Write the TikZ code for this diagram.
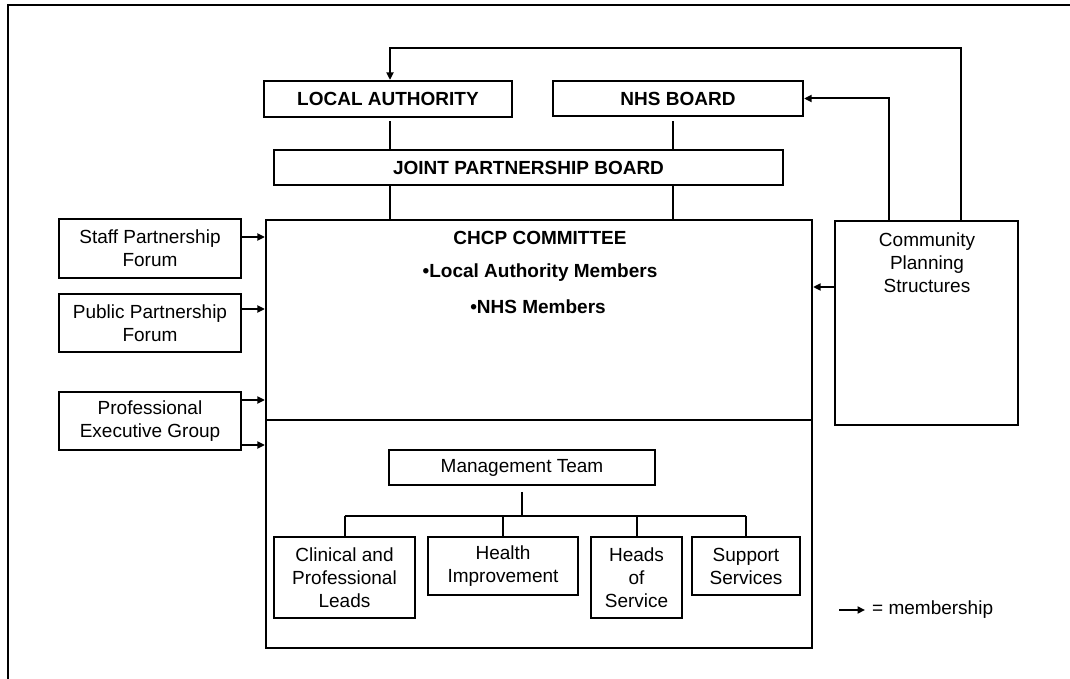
\documentclass[tikz,border=0pt]{standalone}
\usepackage{fontspec}
\setmainfont{Liberation Sans}
\usetikzlibrary{arrows.meta,positioning,calc}

\begin{document}
\begin{tikzpicture}[x=1pt, y=-1pt,
    every node/.style={font=\fontsize{19}{23}\selectfont, align=center, inner sep=0pt},
    orgbox/.style={rectangle, draw, line width=2.2pt},
    subbox/.style={rectangle, draw, line width=1.9pt},
    link/.style={line width=2pt},
    memb/.style={line width=2pt, -{Triangle[length=7.5pt,width=7pt]}}]
    \useasboundingbox (0,0) rectangle (1070,679);
    \clip (0,0) rectangle (1070,679);
    % outer frame
    \draw[line width=2.2pt] (8,5) rectangle (1100,720);

    % Top layer
    \node[orgbox, minimum width=248pt, minimum height=36pt, font=\fontsize{19}{23}\selectfont\bfseries] (la) at (388,99) {LOCAL AUTHORITY};
    \node[orgbox, minimum width=250pt, minimum height=35pt, font=\fontsize{19}{23}\selectfont\bfseries] (nhs) at (678,98.5) {NHS BOARD};
    \node[orgbox, minimum width=509pt, minimum height=35pt, font=\fontsize{19}{23}\selectfont\bfseries] (jpb) at (528.5,167.5) {JOINT PARTNERSHIP BOARD};

    % CHCP committee
    \node[orgbox, minimum width=546pt, minimum height=200pt] (chcp) at (539,320) {};
    \node[orgbox, minimum width=546pt, minimum height=228pt] (ops) at (539,534) {};
    \node[font=\fontsize{19}{23}\selectfont\bfseries] (chcptitle) at (540,238) {CHCP COMMITTEE};
    \node[font=\fontsize{19}{23}\selectfont\bfseries] (lam) at (540,273) {•Local Authority Members};
    \node[font=\fontsize{19}{23}\selectfont\bfseries] (nhsm) at (538,307) {•NHS Members};

    % Forums on the left
    \node[orgbox, minimum width=182pt, minimum height=59pt] (spf) at (150,248.5) {Staff Partnership\\Forum};
    \node[orgbox, minimum width=182pt, minimum height=58pt] (ppf) at (150,323) {Public Partnership\\Forum};
    \node[orgbox, minimum width=182pt, minimum height=58pt] (peg) at (150,421) {Professional\\Executive Group};

    % Community planning
    \node[orgbox, minimum width=183pt, minimum height=204pt] (cps) at (926.5,323) {};
    \node (cpstext) at (927,263) {Community\\Planning\\Structures};

    % Management team and services
    \node[subbox, minimum width=266pt, minimum height=35pt] (mt) at (522,467.5) {Management Team};
    \node[subbox, minimum width=141pt, minimum height=81pt] (clin) at (344.5,577.5) {Clinical and\\Professional\\Leads};
    \node[subbox, minimum width=150pt, minimum height=58pt] (hlth) at (503,566) {Health\\Improvement};
    \node[subbox, minimum width=91pt, minimum height=81pt] (heads) at (636.5,577.5) {Heads\\of\\Service};
    \node[subbox, minimum width=108pt, minimum height=58pt] (supp) at (746,566) {Support\\Services};
    \coordinate (bus) at (522,516);

    % Plain links
    \draw[link, shorten <=3pt] ([xshift=2pt]la.south) -- ([xshift=2pt]la.south |- jpb.north);
    \draw[link, shorten <=4pt] ([xshift=-5pt]nhs.south) -- ([xshift=-5pt]nhs.south |- jpb.north);
    \draw[link] ([xshift=2pt]la.south |- jpb.south) -- ([xshift=2pt]la.south |- chcp.north);
    \draw[link] ([xshift=-5pt]nhs.south |- jpb.south) -- ([xshift=-5pt]nhs.south |- chcp.north);
    \draw[link, shorten <=6pt] (mt.south) -- (bus);
    \draw[link] (clin.north |- bus) -- (supp.north |- bus);
    \foreach \n in {clin,hlth,heads,supp}
        \draw[link] (\n.north |- bus) -- (\n.north);

    % Membership arrows
    \draw[memb] ([yshift=11.5pt]spf.east) -- ([yshift=11.5pt]spf.east -| chcp.west);
    \draw[memb] ([yshift=14pt]ppf.east) -- ([yshift=14pt]ppf.east -| chcp.west);
    \draw[memb] ([yshift=21pt]peg.east) -- ([yshift=21pt]peg.east -| chcp.west);
    \draw[memb] ([yshift=-24pt]peg.east) -- ([yshift=-24pt]peg.east -| ops.west);
    \draw[memb] ([yshift=36pt]cps.west) -- ([yshift=36pt]cps.west -| chcp.east);
    \coordinate (fbtop) at (961,48);
    \draw[memb] ([xshift=34.5pt]cps.north) |- ([xshift=2pt]la.north |- fbtop) -- ([xshift=2pt]la.north);
    \draw[memb] ([xshift=-37.5pt]cps.north) |- (nhs.east);

    % Legend
    \coordinate (legarrow) at (839,610);
    \draw[memb] (legarrow) -- ++(26,0);
    \node[anchor=west] (legend) at (872,610) {= membership};
\end{tikzpicture}
\end{document}
